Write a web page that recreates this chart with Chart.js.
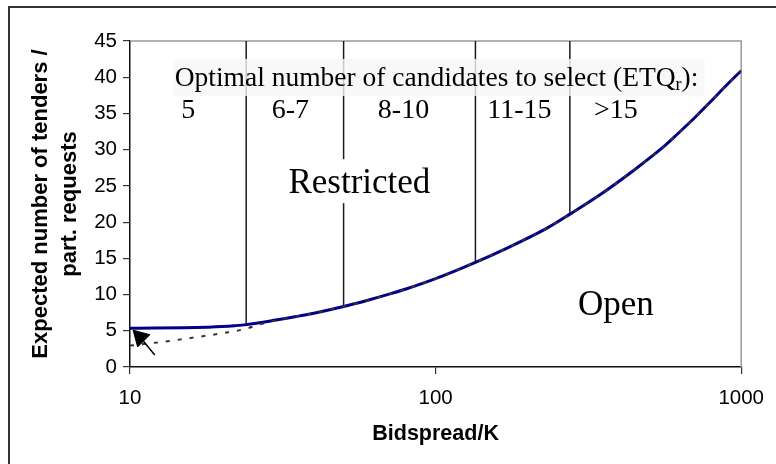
<!DOCTYPE html>
<html>
<head>
<meta charset="utf-8">
<script src="https://cdn.jsdelivr.net/npm/chart.js@4.4.0/dist/chart.umd.min.js"></script>
<style>
  html, body { margin: 0; padding: 0; background: #fff; }
  canvas { display: block; }
</style>
</head>
<body>
<canvas id="graphe" width="776" height="464"></canvas>
<script>
// Courbe principale : nombre attendu d'offres selon bidspread/K
const bidspread = [10, 12, 15, 18, 20, 22, 24, 30, 35, 40, 50, 60, 70, 80, 100, 135, 170, 230, 275, 350, 450, 550, 620, 700, 780, 900, 1000];
const nbOffres = [5.35, 5.37, 5.42, 5.5, 5.58, 5.7, 5.85, 6.48, 6.97, 7.43, 8.35, 9.22, 10.02, 10.77, 12.2, 14.45, 16.35, 19.1, 21.1, 23.95, 27.3, 30.2, 32.2, 34.3, 36.3, 39.0, 40.9];

// Courbe pointillée, qui rejoint la courbe principale vers 28
const bidspreadPointille = [10, 13.5, 17, 21, 24, 28, 35, 40, 50, 60, 70, 80, 100, 135, 170, 230, 275, 350, 450, 550, 620, 700, 780, 900, 1000];
const nbPointille = [2.95, 3.6, 4.2, 4.8, 5.3, 6.15, 6.97, 7.43, 8.35, 9.22, 10.02, 10.77, 12.2, 14.45, 16.35, 19.1, 21.1, 23.95, 27.3, 30.2, 32.2, 34.3, 36.3, 39.0, 40.9];

// Limites entre zones (nombre optimal de candidats)
const limites = [24, 50, 135, 275];
const limitesBas = [5.85, 8.35, 14.45, 21.1];
const limiteHaut = 45;
const zonesCandidats = ['5', '6-7', '8-10', '11-15', '>15'];
const zonesX = [15.5, 33.5, 78.5, 188, 389];

// Flèche vers le début de la courbe
const flecheX = [12.05, 10.8];
const flecheY = [1.65, 4.1];

const ticksX = [10, 100, 1000];

const SERIF = "'Liberation Serif', 'Times New Roman', serif";
const SANS = "'Liberation Sans', Arial, sans-serif";
Chart.defaults.font.family = SANS;
Chart.defaults.color = '#000';

function points(xs, ys) {
  return xs.map((x, i) => ({ x: x, y: ys[i] }));
}

// order : plus petit = dessiné au-dessus
const datasets = [];
limites.forEach((l, i) => {
  datasets.push({
    data: [{ x: l, y: limiteHaut }, { x: l, y: limitesBas[i] }],
    borderColor: '#1a1a1a',
    borderWidth: 1.5,
    pointRadius: 0,
    showLine: true,
    order: 3
  });
});
datasets.push({
  data: points(bidspread, nbOffres),
  borderColor: '#00008b',
  borderWidth: 3,
  pointRadius: 0,
  showLine: true,
  cubicInterpolationMode: 'monotone',
  order: 2
});
datasets.push({
  data: points(bidspreadPointille, nbPointille),
  borderColor: '#333',
  borderWidth: 2,
  borderDash: [4, 8],
  pointRadius: 0,
  showLine: true,
  cubicInterpolationMode: 'monotone',
  order: 1
});
datasets.push({
  data: points(flecheX, flecheY),
  borderColor: '#000',
  borderWidth: 1.5,
  pointRadius: [0, 10],
  pointStyle: 'triangle',
  rotation: -45,
  pointBackgroundColor: '#000',
  pointBorderColor: '#000',
  pointBorderWidth: 1,
  showLine: true,
  order: 0
});

// Cadre, bordures et textes
const decor = {
  id: 'decor',
  beforeDraw(chart) {
    const ctx = chart.ctx;
    ctx.save();
    ctx.fillStyle = '#fff';
    ctx.fillRect(0, 0, chart.width, chart.height);
    ctx.strokeStyle = '#333';
    ctx.lineWidth = 2;
    ctx.beginPath();
    ctx.moveTo(9, chart.height);
    ctx.lineTo(9, 7);
    ctx.lineTo(chart.width, 7);
    ctx.stroke();
    ctx.restore();
  },
  beforeDatasetsDraw(chart) {
    const { ctx, chartArea: a } = chart;
    ctx.save();
    ctx.strokeStyle = '#999';
    ctx.lineWidth = 1.5;
    ctx.beginPath();
    ctx.moveTo(a.left, a.top);
    ctx.lineTo(a.right, a.top);
    ctx.lineTo(a.right, a.bottom);
    ctx.stroke();
    ctx.restore();
  },
  afterDatasetsDraw(chart) {
    const ctx = chart.ctx;
    const sx = chart.scales.x, sy = chart.scales.y;
    ctx.save();
    ctx.fillStyle = '#000';
    ctx.textBaseline = 'alphabetic';

    // Ligne "Optimal number of candidates to select (ETQr):"
    const f = '27.5px ' + SERIF;
    const fs = '18px ' + SERIF;
    const t1 = 'Optimal number of candidates to select (ETQ';
    const t2 = 'r';
    const t3 = '):';
    ctx.font = f;
    const w1 = ctx.measureText(t1).width;
    const w3 = ctx.measureText(t3).width;
    ctx.font = fs;
    const w2 = ctx.measureText(t2).width;
    const x0 = sx.getPixelForValue(14);
    const yb = sy.getPixelForValue(38.8);
    ctx.fillStyle = 'rgba(246,246,246,0.8)';
    ctx.fillRect(x0 - 1, yb - 27, w1 + w2 + w3 + 7, 37);
    ctx.fillStyle = '#000';
    ctx.textAlign = 'left';
    ctx.font = f;
    ctx.fillText(t1, x0, yb);
    ctx.font = fs;
    ctx.fillText(t2, x0 + w1, yb + 4);
    ctx.font = f;
    ctx.fillText(t3, x0 + w1 + w2, yb);

    // Nombres de candidats par zone
    ctx.font = '28px ' + SERIF;
    ctx.textAlign = 'center';
    const yn = sy.getPixelForValue(34.4);
    zonesCandidats.forEach((z, i) => {
      ctx.fillText(z, sx.getPixelForValue(zonesX[i]), yn);
    });

    // Restricted / Open
    ctx.font = '35px ' + SERIF;
    const xr = sx.getPixelForValue(56.3);
    const yr = sy.getPixelForValue(24.0);
    const wr = ctx.measureText('Restricted').width;
    ctx.fillStyle = '#fff';
    ctx.fillRect(xr - wr / 2 - 6, yr - 34, wr + 12, 44);
    ctx.fillStyle = '#000';
    ctx.fillText('Restricted', xr, yr);
    ctx.fillText('Open', sx.getPixelForValue(389), sy.getPixelForValue(7.16));
    ctx.restore();
  }
};

const ctx = document.getElementById('graphe').getContext('2d');
new Chart(ctx, {
  type: 'scatter',
  data: { datasets: datasets },
  plugins: [decor],
  options: {
    responsive: false,
    animation: false,
    layout: { padding: { left: 0, top: 41, right: 29, bottom: 0 } },
    plugins: {
      legend: { display: false },
      tooltip: { enabled: false }
    },
    scales: {
      x: {
        type: 'logarithmic',
        min: 10,
        max: 1000,
        afterBuildTicks: (s) => { s.ticks = ticksX.map(v => ({ value: v })); },
        afterFit: (s) => { s.height = 97; },
        ticks: {
          callback: (v) => String(v),
          font: { size: 20.5 },
          color: '#000',
          padding: 12,
          maxRotation: 0
        },
        grid: { drawOnChartArea: false, drawTicks: true, tickLength: 7, color: '#333', lineWidth: 1.2 },
        border: { display: true, color: '#111', width: 1.5 },
        title: {
          display: true,
          text: 'Bidspread/K',
          font: { size: 21.5, weight: 'bold' },
          color: '#000',
          padding: { top: 0, bottom: 17 }
        }
      },
      y: {
        min: 0,
        max: 45,
        afterFit: (s) => { s.width = 130; },
        ticks: {
          stepSize: 5,
          font: { size: 20.5 },
          color: '#000',
          padding: 6
        },
        grid: { drawOnChartArea: false, drawTicks: true, tickLength: 7, color: '#333', lineWidth: 1.2 },
        border: { display: true, color: '#111', width: 1.5 },
        title: {
          display: true,
          text: ['Expected number of tenders /', 'part. requests'],
          font: { size: 22, weight: 'bold', lineHeight: 1.3 },
          color: '#000',
          padding: { top: 27, bottom: 0 }
        }
      }
    }
  }
});
</script>
</body>
</html>
